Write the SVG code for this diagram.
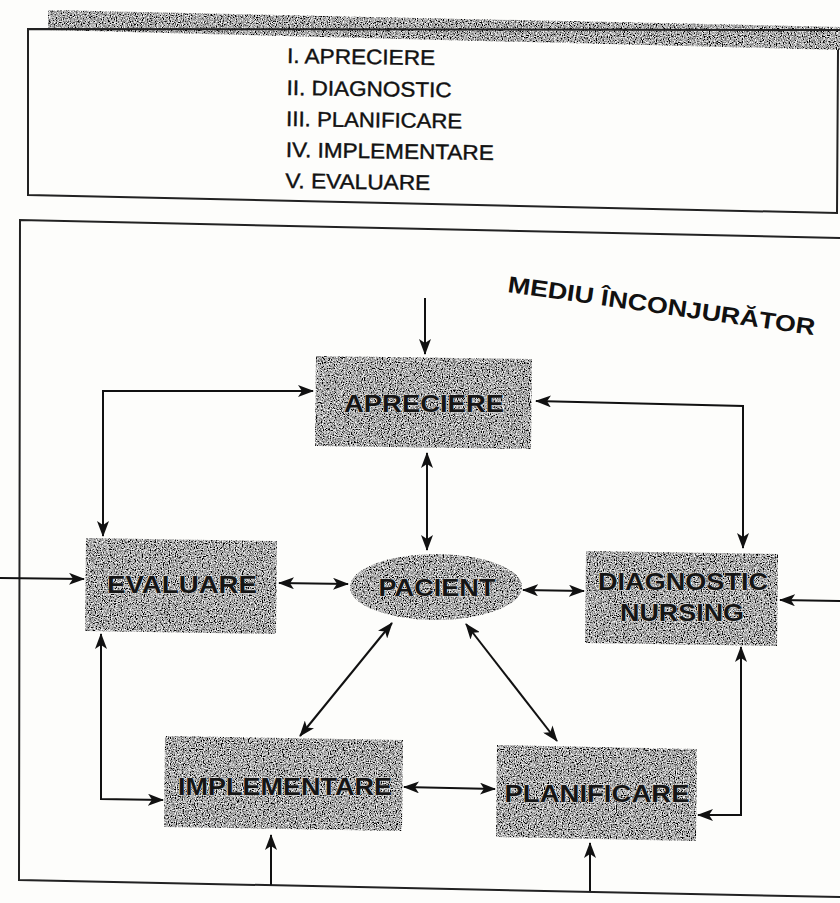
<svg xmlns="http://www.w3.org/2000/svg" width="840" height="903" viewBox="0 0 840 903">
<defs>
<filter id="grain" x="0" y="0" width="100%" height="100%">
<feTurbulence type="fractalNoise" baseFrequency="0.85" numOctaves="2" seed="3" result="n"/>
<feColorMatrix in="n" type="matrix" values="2.2 0 0 0 -0.7  2.2 0 0 0 -0.7  2.2 0 0 0 -0.7  0 0 0 0 1" result="c"/>
<feComposite in="c" in2="SourceGraphic" operator="in"/>
</filter>
<marker id="ah" viewBox="0 0 16 12" refX="15" refY="6" markerWidth="16" markerHeight="12" markerUnits="userSpaceOnUse" orient="auto-start-reverse">
<path d="M0,0 L16,6 L0,12 L4,6 Z" fill="#111"/>
</marker>
</defs>
<style>
.frame{fill:none;stroke:#222;stroke-width:2}
.node{fill:#8e8e8e;filter:url(#grain)}
.lbl{font-family:"Liberation Sans",Arial,sans-serif;font-weight:bold;font-size:24px;fill:#151515;stroke:#dcdcdc;stroke-width:0.8;paint-order:stroke;text-anchor:middle}
.lst{font-family:"Liberation Sans",Arial,sans-serif;font-size:21px;fill:#111;stroke:#111;stroke-width:0.4}
.c{fill:none;stroke:#111;stroke-width:2}
.ar{marker-end:url(#ah)}
.ab{marker-start:url(#ah);marker-end:url(#ah)}
</style>
<rect width="840" height="903" fill="#fdfdfb"/>

<g id="legend">
<polygon points="48,10 840,27 840,50 48,30" class="node"/>
<polyline points="838,50 837,213 28,195 28,29 840,30" class="frame"/>
<g transform="rotate(0.8,287,63)">
<text class="lst" x="287" y="63" textLength="148" lengthAdjust="spacingAndGlyphs">I. APRECIERE</text>
<text class="lst" x="287" y="95" textLength="165" lengthAdjust="spacingAndGlyphs">II. DIAGNOSTIC</text>
<text class="lst" x="287" y="126" textLength="176" lengthAdjust="spacingAndGlyphs">III. PLANIFICARE</text>
<text class="lst" x="287" y="157" textLength="208" lengthAdjust="spacingAndGlyphs">IV. IMPLEMENTARE</text>
<text class="lst" x="287" y="188" textLength="145" lengthAdjust="spacingAndGlyphs">V. EVALUARE</text>
</g>
</g>

<g id="environment">
<polyline points="840,238 20,220 19,880 840,897" class="frame"/>
<text transform="translate(507,292) rotate(8)" textLength="310" lengthAdjust="spacingAndGlyphs" style="font-family:'Liberation Sans',Arial,sans-serif;font-weight:bold;font-size:23px;fill:#111">MEDIU ÎNCONJURĂTOR</text>
</g>

<g id="connectors">
<line x1="425" y1="298" x2="425" y2="354" class="c ar"/>
<line x1="427" y1="453" x2="427" y2="550" class="c ab"/>
<polyline points="103,536 103,391 313,391" class="c ab"/>
<polyline points="536,401 743,406 743,548" class="c ab"/>
<line x1="279" y1="583" x2="348" y2="584" class="c ab"/>
<line x1="523" y1="590" x2="584" y2="591" class="c ab"/>
<line x1="0" y1="578" x2="84" y2="579" class="c ar"/>
<line x1="840" y1="601" x2="780" y2="600" class="c ar"/>
<line x1="392" y1="623" x2="300" y2="736" class="c ab"/>
<line x1="466" y1="624" x2="557" y2="741" class="c ab"/>
<polyline points="101,634 101,799 163,800" class="c ab"/>
<line x1="404" y1="787" x2="495" y2="789" class="c ab"/>
<polyline points="741,647 741,815 698,815" class="c ab"/>
<line x1="271" y1="885" x2="271" y2="835" class="c ar"/>
<line x1="590" y1="891" x2="590" y2="843" class="c ar"/>
</g>

<g id="apreciere">
<polygon points="316,356 532,359 531,449 315,446" class="node"/>
<text class="lbl" x="424" y="412" textLength="160" lengthAdjust="spacingAndGlyphs">APRECIERE</text>
</g>
<g id="evaluare">
<polygon points="86,538 277,541 276,634 85,631" class="node"/>
<text class="lbl" x="182" y="593" textLength="150" lengthAdjust="spacingAndGlyphs">EVALUARE</text>
</g>
<g id="pacient">
<ellipse cx="436" cy="587" rx="86" ry="33" class="node"/>
<text class="lbl" x="437" y="596" textLength="117" lengthAdjust="spacingAndGlyphs">PACIENT</text>
</g>
<g id="diagnostic">
<polygon points="586,551 778,554 777,646 585,643" class="node"/>
<text class="lbl" x="683" y="590" textLength="170" lengthAdjust="spacingAndGlyphs">DIAGNOSTIC</text>
<text class="lbl" x="682" y="621" textLength="124" lengthAdjust="spacingAndGlyphs">NURSING</text>
</g>
<g id="implementare">
<polygon points="165,736 403,740 402,831 164,827" class="node"/>
<text class="lbl" x="285" y="795" textLength="214" lengthAdjust="spacingAndGlyphs">IMPLEMENTARE</text>
</g>
<g id="planificare">
<polygon points="497,745 697,749 696,841 496,837" class="node"/>
<text class="lbl" x="597" y="802" textLength="185" lengthAdjust="spacingAndGlyphs">PLANIFICARE</text>
</g>
</svg>
